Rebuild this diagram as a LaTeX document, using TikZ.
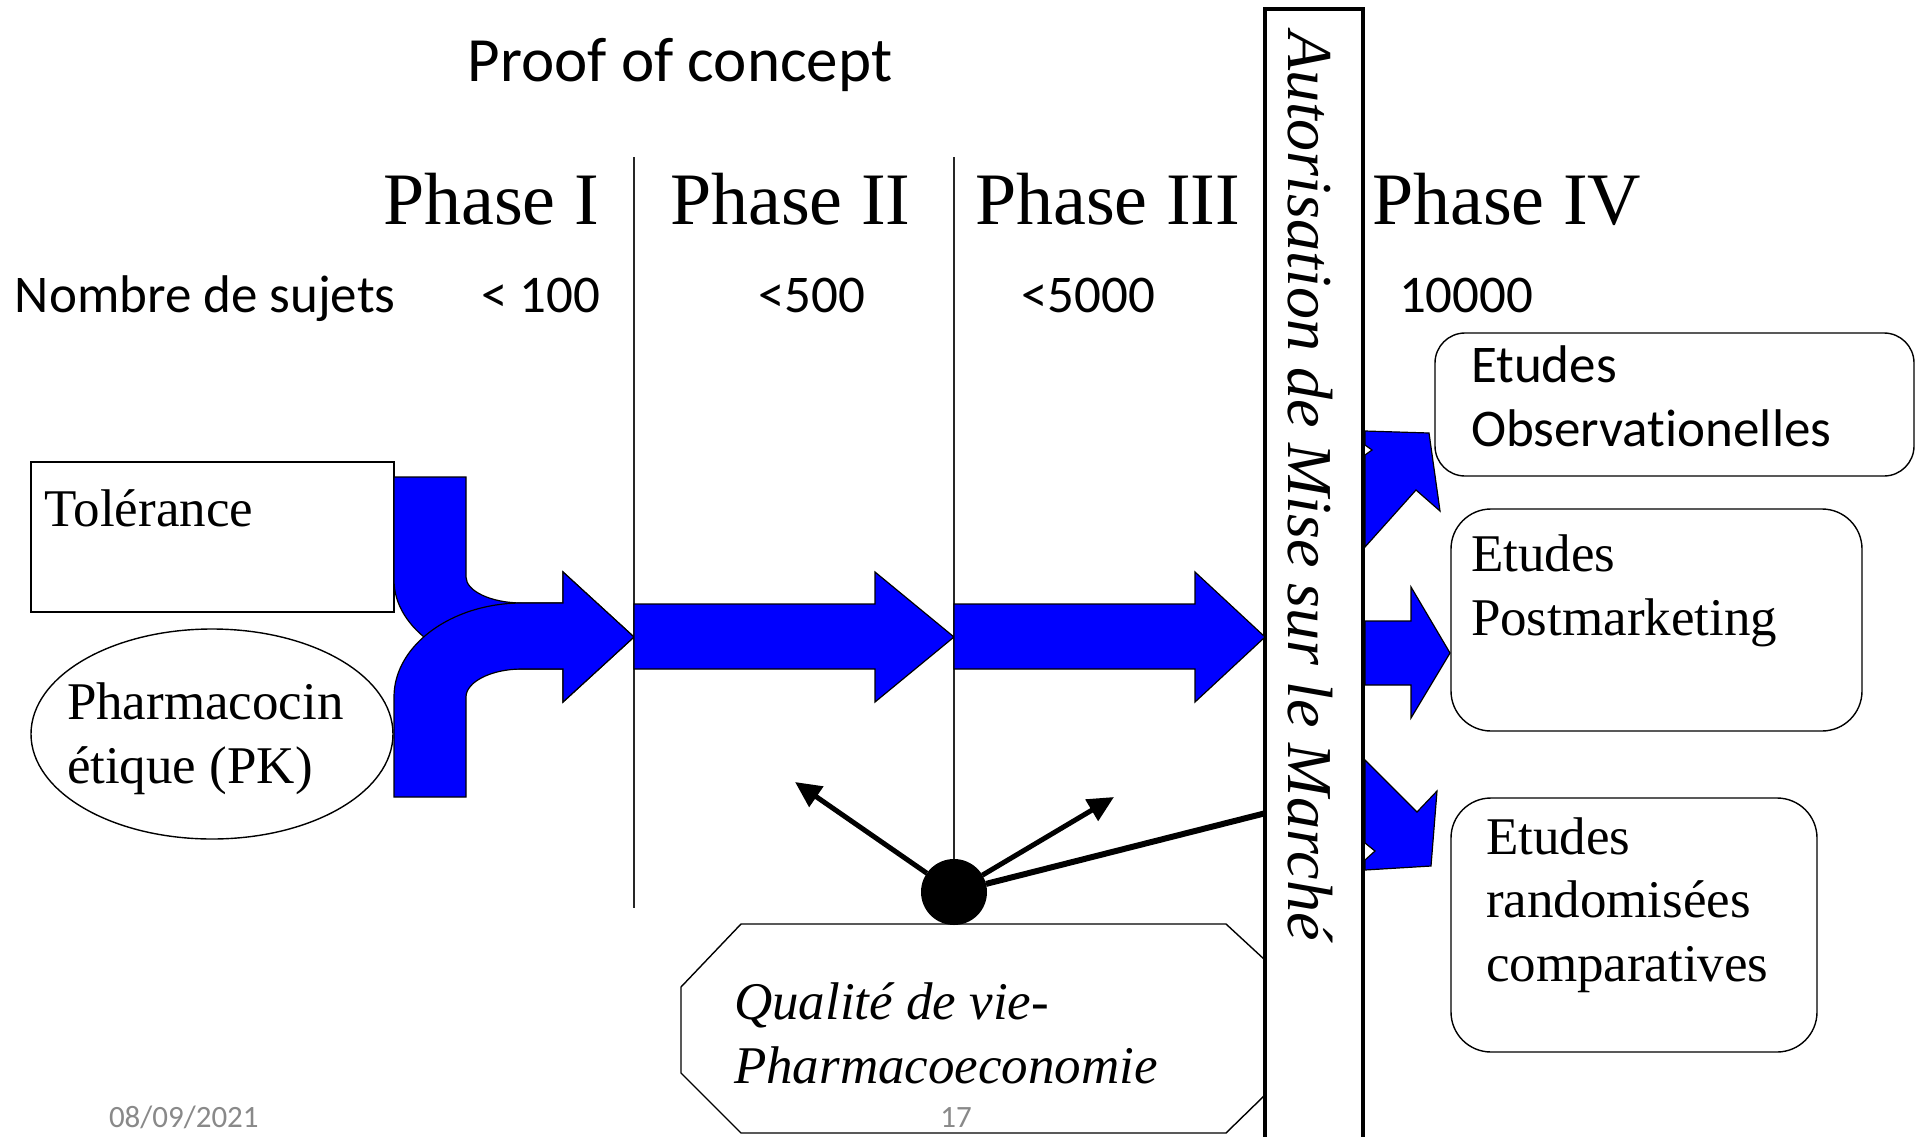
\documentclass[tikz,border=0pt]{standalone}
\usepackage{fontspec}
\setmainfont{Liberation Serif}
\newfontfamily\calibri[Ligatures=NoCommon]{Carlito}
\usetikzlibrary{arrows.meta,shapes.geometric}

\definecolor{flowblue}{RGB}{0,0,255}
\definecolor{footgray}{RGB}{137,137,137}

\begin{document}
\begin{tikzpicture}[x=0.5pt,y=-0.5pt,
  every node/.style={inner sep=0pt, outer sep=0pt},
  flow/.style={fill=flowblue, draw=black, line width=0.6pt, line join=miter},
  phasetitle/.style={font=\fontsize{37}{44}\selectfont, anchor=base west},
  sanslabel/.style={font=\calibri\fontsize{26.5}{32}\selectfont, anchor=base west},
  seriflabel/.style={font=\fontsize{26.5}{32}\selectfont, anchor=base west},
  italiclabel/.style={font=\itshape\fontsize{26.5}{32}\selectfont, anchor=base west},
  thinbox/.style={draw=black, line width=0.7pt},
  roundbox/.style={thinbox, rectangle, rounded corners=#1},
  divider/.style={draw=black!85, line width=0.8pt},
  pointer/.style={draw=black, line width=2.5pt, -{Triangle[length=13pt,width=12pt]}},
  footer/.style={font=\calibri\fontsize{15.5}{18}\selectfont, text=footgray},
]
\useasboundingbox (0,0) rectangle (1918,1136);
\fill[white] (0,0) rectangle (1918,1136);

% ---- headings ----
\node[font=\calibri\fontsize{31.5}{38}\selectfont, anchor=base] (poc) at (680,81) {Proof of concept};
\node[phasetitle] (ph1) at (383,224) {Phase I};
\node[phasetitle] (ph2) at (670,224) {Phase II};
\node[phasetitle] (ph3) at (975,224) {Phase III};
\node[phasetitle] (ph4) at (1372,224) {Phase IV};

\node[sanslabel] (nb)  at (15,312)   {Nombre de sujets};
\node[sanslabel] (n1)  at (481,312)  {< 100};
\node[sanslabel] (n2)  at (758,312)  {<500};
\node[sanslabel] (n3)  at (1021,312) {<5000};
\node[sanslabel] (n4)  at (1399,312) {10000};

% ---- phase separators ----
\node[circle, fill=black, minimum size=33pt] (dot) at (954,892) {};
\coordinate (s1top) at (634,157);
\coordinate (s1bot) at (634,908);
\coordinate (s2top) at (954,157);
\draw[divider] (s1top) -- (s1bot);
\draw[divider] (s2top) -- (dot);

% ---- quality of life panel ----
\draw[thinbox] (1265,960) -- (1226,924) -- (741,924) -- (681,987) -- (681,1073)
  -- (741,1133) -- (1226,1133) -- (1265,1095);
\node[italiclabel] (q1) at (734,1019) {Qualité de vie-};
\node[italiclabel] (q2) at (734,1083) {Pharmacoeconomie};

% ---- pointers from the dot ----
\coordinate (pl) at (795,782);
\coordinate (pr) at (1114,797);
\coordinate (pm) at (1266,813);
\draw[pointer] (dot) -- (pl);
\draw[pointer] (dot) -- (pr);
\draw[draw=black, line width=3pt] (dot) -- (pm);

% ---- marketing authorisation bar ----
\node[draw=black, line width=2pt, fill=white, minimum width=49pt, minimum height=576pt] (amm) at (1314,585) {};
\node[font=\itshape\fontsize{32}{38}\selectfont, rotate=-90, anchor=base west] (ammtext) at (1288,31)
  {Autorisation de Mise sur le Marché};

% ---- phase I inputs ----
\node[thinbox, minimum width=181.5pt, minimum height=75pt] (tol) at (212.5,537) {};
\node[seriflabel] (toltext) at (45,526) {Tolérance};
\node[thinbox, ellipse, minimum width=181pt, minimum height=105pt] (pk) at (212,734) {};
\node[seriflabel] (pk1) at (67,719) {Pharmacocin};
\node[seriflabel] (pk2) at (67,783) {étique (PK)};

% ---- merging block arrow of phase I ----
\draw[flow] (394,477) -- (466,477) -- (466,577) .. controls (466,591) and (491,603) .. (522,603)
  -- (563,603) -- (563,572) -- (634,637) -- (563,702) -- (563,669) -- (522,669)
  .. controls (452,669) and (394,629) .. (394,580) -- cycle;
\draw[flow] (394,797) -- (394,697) .. controls (394,645) and (452,603) .. (522,603)
  -- (563,603) -- (563,572) -- (634,637) -- (563,702) -- (563,669) -- (522,669)
  .. controls (491,669) and (466,682) .. (466,697) -- (466,797) -- cycle;

% ---- phase II and III block arrows ----
\draw[flow] (634,604) -- (875,604) -- (875,572) -- (954,637) -- (875,702) -- (875,669) -- (634,669) -- cycle;
\draw[flow] (954,604) -- (1195,604) -- (1195,572) -- (1265,637) -- (1195,702) -- (1195,669) -- (954,669) -- cycle;

% ---- phase IV block arrows ----
\draw[flow] (1365,431) -- (1429,433) -- (1440,511) -- (1416,490) -- (1365,547) -- (1365,455)
  -- (1372,450) -- (1365,445) -- cycle;
\draw[flow] (1365,621) -- (1411,621) -- (1411,587) -- (1450,653) -- (1411,718) -- (1411,685)
  -- (1365,685) -- cycle;
\draw[flow] (1365,760) -- (1417,812) -- (1437,791) -- (1431,866) -- (1365,870) -- (1365,860)
  -- (1375,851) -- (1365,843) -- cycle;

% ---- phase IV studies ----
\node[roundbox=15pt, minimum width=239.5pt, minimum height=71.5pt] (obs) at (1674.5,404.5) {};
\node[sanslabel] (obs1) at (1471,382) {Etudes};
\node[sanslabel] (obs2) at (1471,446) {Observationelles};

\node[roundbox=20pt, minimum width=205.5pt, minimum height=111pt] (post) at (1656.5,620) {};
\node[seriflabel] (post1) at (1471,571) {Etudes};
\node[seriflabel] (post2) at (1471,635) {Postmarketing};

\node[roundbox=20pt, minimum width=183pt, minimum height=127pt] (rand) at (1634,925) {};
\node[seriflabel] (rand1) at (1486,854) {Etudes};
\node[seriflabel] (rand2) at (1486,917) {randomisées};
\node[seriflabel] (rand3) at (1486,981) {comparatives};

% ---- footer ----
\node[footer, anchor=base west] (date) at (109,1127) {08/09/2021};
\node[footer, anchor=base] (page) at (956,1127) {17};
\end{tikzpicture}
\end{document}
